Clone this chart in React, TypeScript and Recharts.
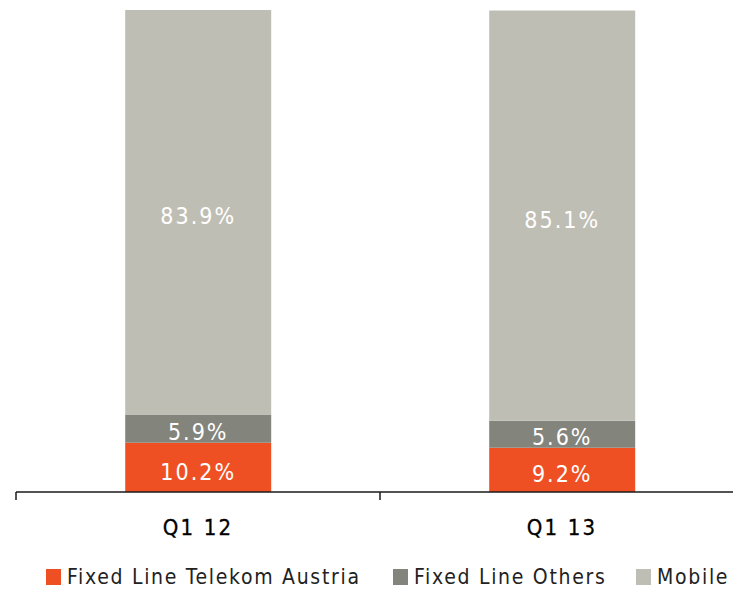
import React from 'react';
import { BarChart, Bar, XAxis, YAxis, LabelList, Legend } from 'recharts';

const categories = ['Q1 12', 'Q1 13'];
const fixedTelekom = [10.2, 9.2];
const fixedOthers = [5.9, 5.6];
const mobile = [83.9, 85.1];

const seriesNames = ['Fixed Line Telekom Austria', 'Fixed Line Others', 'Mobile'];
const seriesColors = ['#EF5023', '#83847C', '#BFBEB4'];

const data = categories.map((c, i) => ({
  name: c,
  fta: fixedTelekom[i],
  flo: fixedOthers[i],
  mob: mobile[i],
}));

const FONT = '"DejaVu Sans Condensed", "DejaVu Sans", sans-serif';

const fmt = (v: any) => `${Number(v).toFixed(1)}%`;

const CatTick = (props: any) => {
  const { x, y, payload, width } = props;
  const band = (width || 728) / categories.length;
  const bx = x - band / 2;
  return (
    <g>
      <line x1={bx} y1={y} x2={bx} y2={y + 8} stroke="#1a1a1a" strokeWidth={1.5} />
      <text
        x={x}
        y={y + 43}
        textAnchor="middle"
        fill="#000"
        fontFamily={FONT}
        fontSize={22}
        letterSpacing={2.2}
        stroke="#000"
        strokeWidth={0.3}
      >
        {payload.value}
      </text>
    </g>
  );
};

const LegendContent = (props: any) => {
  const { payload } = props;
  const positions = [46, 393, 636];
  const items = seriesNames.map((n) => (payload || []).find((p: any) => p.value === n)).filter(Boolean);
  return (
    <div style={{ position: 'relative', width: 733, height: 24 }}>
      {items.map((p: any) => {
        const i = seriesNames.indexOf(p.value);
        return (
          <div
            key={p.value}
            style={{
              position: 'absolute',
              left: positions[i],
              top: 0,
              display: 'flex',
              alignItems: 'center',
              fontFamily: FONT,
              fontSize: 21,
              color: '#222',
              letterSpacing: 1.7,
              whiteSpace: 'nowrap',
            }}
          >
            <span style={{ display: 'inline-block', width: 15, height: 16, background: seriesColors[i], marginRight: 6 }} />
            <span>{p.value}</span>
          </div>
        );
      })}
    </div>
  );
};

const labelStyle = {
  fill: '#ffffff',
  fontFamily: FONT,
  fontSize: 23,
  letterSpacing: 2,
};

export default function App() {
  return (
    <div style={{ position: 'absolute', left: 0, top: 0, width: 733, height: 590, overflow: 'hidden', background: '#fff' }}>
      <BarChart
        width={760}
        height={590}
        data={data}
        margin={{ top: 10, right: 16, left: 16, bottom: 0 }}
        barCategoryGap="30%"
      >
        <YAxis hide domain={[0, 100]} />
        <XAxis
          dataKey="name"
          height={98}
          axisLine={{ stroke: '#1a1a1a', strokeWidth: 1.5 }}
          tickLine={false}
          tickSize={0}
          tickMargin={0}
          tick={<CatTick />}
          interval={0}
        />
        <Legend
          layout="horizontal"
          verticalAlign="middle"
          align="center"
          wrapperStyle={{ top: 565, left: 0, width: 733 }}
          content={<LegendContent />}
        />
        <Bar dataKey="fta" name={seriesNames[0]} stackId="a" fill={seriesColors[0]} isAnimationActive={false}>
          <LabelList dataKey="fta" position="center" formatter={fmt} style={labelStyle} dy={4} />
        </Bar>
        <Bar dataKey="flo" name={seriesNames[1]} stackId="a" fill={seriesColors[1]} isAnimationActive={false}>
          <LabelList dataKey="flo" position="center" formatter={fmt} style={labelStyle} dy={3} />
        </Bar>
        <Bar dataKey="mob" name={seriesNames[2]} stackId="a" fill={seriesColors[2]} isAnimationActive={false}>
          <LabelList dataKey="mob" position="center" formatter={fmt} style={labelStyle} dy={4} />
        </Bar>
      </BarChart>
    </div>
  );
}
